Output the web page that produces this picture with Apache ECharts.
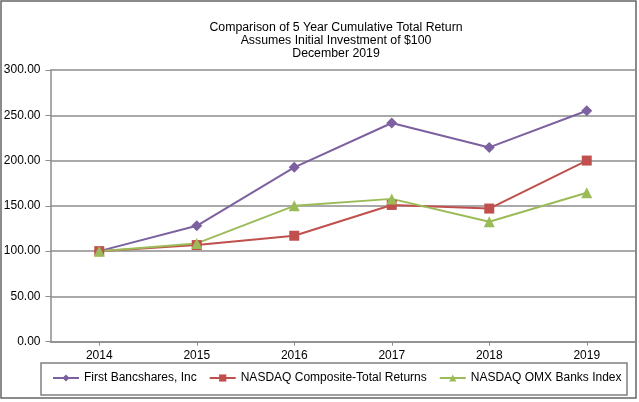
<!DOCTYPE html>
<html>
<head>
<meta charset="utf-8">
<script src="https://cdn.jsdelivr.net/npm/echarts@6/dist/echarts.min.js"></script>
<style>
html,body{margin:0;padding:0;background:#fff;}
#chart{width:639px;height:402px;}
</style>
</head>
<body>
<div id="chart"></div>
<script>
var categories = ['2014', '2015', '2016', '2017', '2018', '2019'];
var firstBancshares = [100, 128, 192.5, 241.5, 214.5, 255];
var nasdaqComposite = [100, 106.7, 117, 151, 147, 200];
var nasdaqBanks = [100, 108.5, 150, 157.7, 132.4, 164.5];
var seriesNames = ['First Bancshares, Inc', 'NASDAQ Composite-Total Returns', 'NASDAQ OMX Banks Index'];
var titleLines = ['Comparison of 5 Year Cumulative Total Return', 'Assumes Initial Investment of $100', 'December 2019'];

var FONT = '"Liberation Sans", Arial, sans-serif';
var chart = echarts.init(document.getElementById('chart'), null, {renderer: 'canvas'});

function mkSeries(name, data, color, symbol, size) {
  return {
    name: name, type: 'line', data: data,
    symbol: symbol, symbolSize: size, showSymbol: true,
    lineStyle: {color: color, width: 2},
    itemStyle: {color: color},
    emphasis: {disabled: true},
    animation: false
  };
}

chart.setOption({
  animation: false,
  backgroundColor: '#fff',
  title: {
    text: titleLines.join('\n'),
    left: 331, top: 16, textAlign: 'center',
    textStyle: {fontFamily: FONT, fontSize: 12.3, fontWeight: 'normal', color: '#000', lineHeight: 13}
  },
  graphic: [
    {type: 'rect', shape: {x: 1, y: 1, width: 635, height: 397}, style: {fill: 'none', stroke: '#666', lineWidth: 1.5}, silent: true, z: -1},
    {type: 'rect', shape: {x: 41, y: 363, width: 586, height: 32}, style: {fill: 'none', stroke: '#808080', lineWidth: 1.5}, silent: true}
  ],
  legend: {
    data: seriesNames,
    left: 52, top: 372, padding: 0,
    itemWidth: 26, itemHeight: 9, itemGap: 12,
    textStyle: {fontFamily: FONT, fontSize: 12, color: '#000'}
  },
  grid: {left: 50.5, right: 3.5, top: 70, bottom: 60.3, containLabel: false},
  xAxis: {
    type: 'category', data: categories, boundaryGap: true,
    axisLine: {lineStyle: {color: '#8c8c8c', width: 1.5}},
    axisTick: {show: true, alignWithLabel: true, length: 4, lineStyle: {color: '#8c8c8c'}},
    axisLabel: {fontFamily: FONT, fontSize: 12, color: '#000', margin: 8},
    splitLine: {show: false}
  },
  yAxis: {
    type: 'value', min: 0, max: 300, interval: 50,
    axisLine: {show: true, lineStyle: {color: '#8c8c8c', width: 1.5}},
    axisTick: {show: true, length: 5, lineStyle: {color: '#8c8c8c'}},
    axisLabel: {fontFamily: FONT, fontSize: 12, color: '#000', margin: 10,
      formatter: function (v) { return v.toFixed(2); }},
    splitLine: {show: true, lineStyle: {color: '#8c8c8c', width: 1.5}}
  },
  series: [
    mkSeries(seriesNames[0], firstBancshares, '#7D60A0', 'diamond', 11),
    mkSeries(seriesNames[1], nasdaqComposite, '#C0504D', 'rect', 10),
    mkSeries(seriesNames[2], nasdaqBanks, '#9BBB59', 'triangle', 11)
  ]
});
</script>
</body>
</html>
